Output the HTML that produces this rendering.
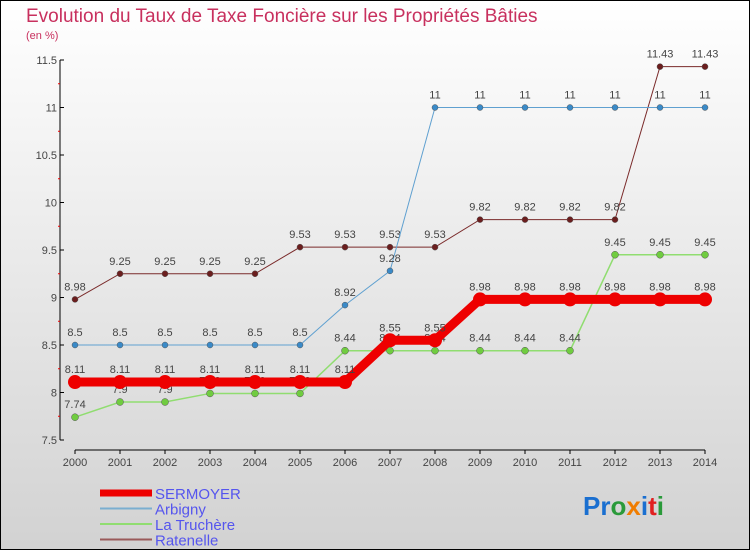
<!DOCTYPE html>
<html><head><meta charset="utf-8"><style>
body{margin:0}
#c{width:750px;height:550px;position:relative;box-sizing:border-box;border:1px solid #000;background:linear-gradient(#fff,#d2d2d2);font-family:"Liberation Sans",sans-serif;overflow:hidden}
</style></head><body>
<div id="c">
<svg id="s" width="750" height="550" style="position:absolute;left:-1px;top:-1px">
<text x="26" y="22" font-size="19" fill="#c8305e">Evolution du Taux de Taxe Foncière sur les Propriétés Bâties</text>
<text x="26" y="39" font-size="11" fill="#c8305e">(en %)</text>
<g id="axes"></g><g id="series"></g><g id="legend"></g>
<g font-size="26" font-weight="bold">
<text x="583" y="515"><tspan fill="#1a6fd0">Pr</tspan><tspan fill="#2a9a3a">o</tspan><tspan fill="#f07d00">x</tspan><tspan fill="#1a6fd0">i</tspan><tspan fill="#e02020">t</tspan><tspan fill="#2a9a3a">i</tspan></text>
</g>
</svg>
</div>
<script>
const years=[2000,2001,2002,2003,2004,2005,2006,2007,2008,2009,2010,2011,2012,2013,2014];
const yTicks=[7.5,8,8.5,9,9.5,10,10.5,11,11.5];
const sermoyer=[8.11,8.11,8.11,8.11,8.11,8.11,8.11,8.55,8.55,8.98,8.98,8.98,8.98,8.98,8.98];
const arbigny=[8.5,8.5,8.5,8.5,8.5,8.5,8.92,9.28,11,11,11,11,11,11,11];
const truchere=[7.74,7.9,7.9,7.99,7.99,7.99,8.44,8.44,8.44,8.44,8.44,8.44,9.45,9.45,9.45];
const ratenelle=[8.98,9.25,9.25,9.25,9.25,9.53,9.53,9.53,9.53,9.82,9.82,9.82,9.82,11.43,11.43];
const NS='http://www.w3.org/2000/svg';
const X=i=>75+i*45, Y=v=>440-(v-7.5)*95;
function mk(p,t,a){const e=document.createElementNS(NS,t);for(const k in a)e.setAttribute(k,a[k]);p.appendChild(e);return e;}
const ax=document.getElementById('axes');
let l=mk(ax,'line',{x1:60,y1:Y(11.5),x2:60,y2:440,stroke:'#000'});

yTicks.forEach(v=>{mk(ax,'line',{x1:60,x2:64,y1:Y(v),y2:Y(v),stroke:'#000'});
 let t=mk(ax,'text',{x:57,y:Y(v)+4,'text-anchor':'end','font-size':11,fill:'#444'});t.textContent=v;
 
 if(v<11.5)mk(ax,'line',{x1:58,x2:60,y1:Y(v+0.25),y2:Y(v+0.25),stroke:'#e00'});});
l=mk(ax,'line',{x1:75,y1:450,x2:705,y2:450,stroke:'#000'});

years.forEach((y,i)=>{mk(ax,'line',{x1:X(i),x2:X(i),y1:450,y2:454,stroke:'#000'});
 let t=mk(ax,'text',{x:X(i),y:466,'text-anchor':'middle','font-size':11,fill:'#444'});t.textContent=y;
 });
const sg=document.getElementById('series');
function draw(name,data,col,w,r,fill){
 const g=mk(sg,'g',{});
 mk(g,'polyline',{points:data.map((v,i)=>X(i)+','+Y(v)).join(' '),fill:'none',stroke:col,'stroke-width':w});
 data.forEach((v,i)=>{const c=mk(g,'circle',{cx:X(i),cy:Y(v),r:r,fill:fill,stroke:w>3?'none':'#555','stroke-width':0.5});
  
  const t=mk(g,'text',{x:X(i),y:Y(v)-9,'text-anchor':'middle','font-size':11,fill:'#444'});t.textContent=v;
  });
}
draw('ratenelle',ratenelle,'#7a2a2a',1,3,'#6b1e1e');
draw('arbigny',arbigny,'#5fa0d0',1,3,'#3a8ac8');
draw('truchere',truchere,'#90dd70',1.5,3.5,'#70cc40');
draw('sermoyer',sermoyer,'#ee0000',9,7,'#ee0000');
const lg=document.getElementById('legend');
[['SERMOYER','#ee0000',7],['Arbigny','#7aaed0',2],['La Truchère','#90dd70',2],['Ratenelle','#9a5a5a',2]].forEach((e,i)=>{
 const y=493+i*15.5;
 const g=mk(lg,'g',{});
 mk(g,'line',{x1:100,x2:152,y1:y,y2:y,stroke:e[1],'stroke-width':e[2]});
 const t=mk(g,'text',{x:155,y:y+6,'font-size':15,fill:'#5555ee'});t.textContent=e[0];});
</script>
</body></html>
